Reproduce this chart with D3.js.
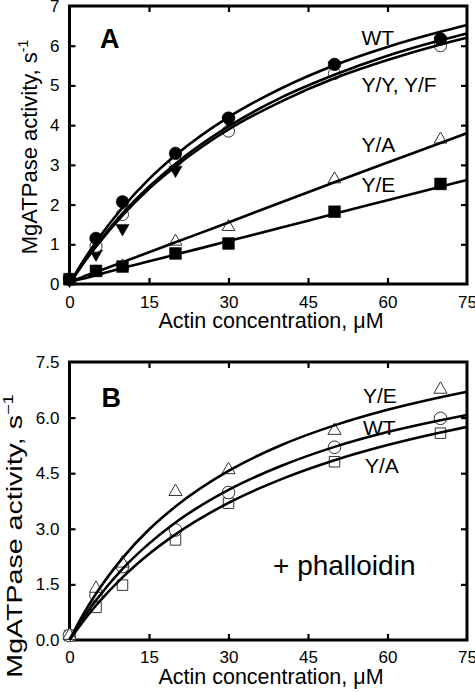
<!DOCTYPE html>
<html><head><meta charset="utf-8">
<script src="https://cdn.jsdelivr.net/npm/d3@7"></script>
<style>
html,body{margin:0;padding:0;background:#fff;}
svg{display:block;font-family:"Liberation Sans",Arial,Helvetica,sans-serif;}
</style></head>
<body><svg id="chart" width="475" height="692"></svg>
<script>
// ---------- data ----------
const xTicks = [0, 15, 30, 45, 60, 75];
const yTicksA = [0, 1, 2, 3, 4, 5, 6, 7];
const yTicksB = [0, 1.5, 3, 4.5, 6, 7.5];
const conc = [0, 5, 10, 20, 30, 50, 70];

// Panel A measured points
const aWT = [0.12, 1.15, 2.07, 3.29, 4.18, 5.53, 6.17];
const aYY = [0.12, 0.95, 1.75, 3.10, 3.85, 5.30, 6.00];
const aYF = [0.10, 0.76, 1.40, 2.87, 4.10, 5.50, 6.12];
const aYA = [0.10, 0.30, 0.45, 1.07, 1.44, 2.64, 3.64];
const aYE = [0.12, 0.33, 0.44, 0.77, 1.02, 1.82, 2.52];

// Panel B measured points (+ phalloidin)
const bYE = [0.12, 1.39, 2.07, 4.00, 4.59, 5.65, 6.76];
const bWT = [0.12, 1.21, 1.98, 2.97, 3.98, 5.20, 5.98];
const bYA = [0.12, 0.88, 1.48, 2.70, 3.69, 4.81, 5.58];

// fitted curves
const fitX = [0, 2.5, 5, 10, 15, 20, 30, 40, 50, 60, 70, 75];
const fitAWT = [0, 0.56, 1.06, 1.92, 2.64, 3.24, 4.20, 4.93, 5.51, 5.97, 6.35, 6.52];
const fitAYY = [0, 0.50, 0.94, 1.73, 2.40, 2.96, 3.89, 4.60, 5.18, 5.64, 6.03, 6.20];
const fitAYF = [0, 0.51, 0.97, 1.78, 2.45, 3.03, 3.97, 4.70, 5.27, 5.75, 6.14, 6.31];
const fitAYA = [0.05, 0.18, 0.30, 0.55, 0.80, 1.05, 1.55, 2.06, 2.56, 3.06, 3.55, 3.80];
const fitAYE = [0.05, 0.13, 0.22, 0.40, 0.57, 0.74, 1.08, 1.42, 1.77, 2.11, 2.45, 2.62];
const fitBYE = [0, 0.67, 1.25, 2.21, 2.98, 3.60, 4.56, 5.26, 5.79, 6.21, 6.55, 6.70];
const fitBWT = [0, 0.57, 1.07, 1.92, 2.60, 3.17, 4.05, 4.70, 5.21, 5.61, 5.93, 6.07];
const fitBYA = [0, 0.49, 0.93, 1.69, 2.32, 2.85, 3.70, 4.34, 4.85, 5.26, 5.60, 5.75];

const labelsA = ["WT", "Y/Y, Y/F", "Y/A", "Y/E"];
const labelsB = ["Y/E", "WT", "Y/A"];

// ---------- drawing ----------
const svg = d3.select("#chart");
const L = 69.5, R = 467;
const x = d3.scaleLinear().domain([0, 75]).range([L, R]);

function panel(opt) {
  const y = d3.scaleLinear().domain([0, opt.ymax]).range([opt.bottom, opt.top]);
  const g = svg.append("g");
  const interiorY = opt.yTicks.filter(v => v > 0 && v < opt.ymax);
  const interiorX = xTicks.filter(v => v > 0 && v < 75);

  // inward ticks (all four sides)
  const axL = g.append("g").attr("transform", `translate(${L},0)`)
    .call(d3.axisLeft(y).tickValues(opt.yTicks).tickSize(-6).tickPadding(10).tickFormat(opt.fmt));
  const axR = g.append("g").attr("transform", `translate(${R},0)`)
    .call(d3.axisRight(y).tickValues(interiorY).tickSize(-6).tickFormat(""));
  const axB = g.append("g").attr("transform", `translate(0,${opt.bottom})`)
    .call(d3.axisBottom(x).tickValues(xTicks).tickSize(-6).tickPadding(opt.xpad).tickFormat(d3.format("d")));
  const axT = g.append("g").attr("transform", `translate(0,${opt.top})`)
    .call(d3.axisTop(x).tickValues(interiorX).tickSize(-6).tickFormat(""));
  [axL, axR, axB, axT].forEach(a => {
    a.select(".domain").remove();
    a.selectAll("line").attr("stroke", "#000").attr("stroke-width", 2.2);
    a.selectAll("text").attr("fill", "#000").attr("font-size", 17)
      .attr("font-family", "Liberation Sans, Arial, sans-serif");
  });
  axL.selectAll(".tick").filter(d => d === 0 || d === opt.ymax).select("line").remove();
  axB.selectAll(".tick").filter(d => d === 0 || d === 75).select("line").remove();

  // frame
  g.append("rect").attr("x", L).attr("y", opt.top).attr("width", R - L).attr("height", opt.bottom - opt.top)
    .attr("fill", "none").attr("stroke", "#000").attr("stroke-width", 3);

  // markers
  opt.points.forEach(s => {
    const sym = d3.symbol().type(s.type).size(s.size);
    g.append("g").selectAll("path").data(conc.map((c, i) => [c, s.vals[i]])).join("path")
      .attr("d", sym)
      .attr("transform", d => `translate(${x(d[0])},${y(d[1])})${s.rot ? " rotate(180)" : ""}`)
      .attr("fill", s.filled ? "#000" : "#fff")
      .attr("stroke", s.filled ? "#000" : "#333")
      .attr("stroke-width", s.filled ? 0.5 : 1);
  });

  // fitted curves
  const line = d3.line().x(d => x(d[0])).y(d => y(d[1])).curve(d3.curveMonotoneX);
  opt.fits.forEach(f => {
    g.append("path").datum(fitX.map((c, i) => [c, f[i]]))
      .attr("d", line).attr("fill", "none").attr("stroke", "#000").attr("stroke-width", 2.6);
  });

  // x title
  g.append("text").attr("x", 271).attr("y", opt.xtitleY).attr("text-anchor", "middle")
    .attr("font-size", 21.5).text("Actin concentration, \u03BCM");

  // y title
  const yt = g.append("text")
    .attr("transform", `translate(${opt.ytitleX},${opt.ytitleCY}) rotate(-90) scale(${opt.ystretch},1)`)
    .attr("text-anchor", "middle").attr("font-size", 22);
  yt.append("tspan").text("MgATPase activity, s");
  yt.append("tspan").attr("font-size", 14).attr("dy", -9).text(opt.sup);

  // panel letter
  g.append("text").attr("x", opt.letterX).attr("y", opt.letterY).attr("font-size", 27)
    .attr("font-weight", "bold").text(opt.letter);

  // series labels
  opt.labels.forEach(l => {
    g.append("text").attr("x", l.x).attr("y", l.y).attr("font-size", l.size || 21).text(l.t);
  });
}

const circle = d3.symbolCircle, square = d3.symbolSquare, tri = d3.symbolTriangle;

panel({
  top: 6, bottom: 284, ymax: 7, yTicks: yTicksA, fmt: d3.format("d"), xpad: 12,
  xtitleY: 328, ytitleX: 37, ytitleCY: 147, ystretch: 1, sup: "-1",
  letter: "A", letterX: 100, letterY: 48,
  points: [
    {vals: aYA, type: tri, size: 70, filled: false},
    {vals: aYE, type: square, size: 140, filled: true},
    {vals: aYF, type: tri, size: 75, filled: true, rot: true},
    {vals: aYY, type: circle, size: 115, filled: false},
    {vals: aWT, type: circle, size: 125, filled: true}
  ],
  fits: [fitAWT, fitAYY, fitAYF, fitAYA, fitAYE],
  labels: [
    {t: labelsA[0], x: 361.5, y: 45},
    {t: labelsA[1], x: 361.5, y: 91.5},
    {t: labelsA[2], x: 361.5, y: 151.5},
    {t: labelsA[3], x: 361.5, y: 191.5}
  ]
});

panel({
  top: 362, bottom: 640, ymax: 7.5, yTicks: yTicksB, fmt: d3.format(".1f"), xpad: 11,
  xtitleY: 684, ytitleX: 22, ytitleCY: 536, ystretch: 1.3, sup: "\u22121",
  letter: "B", letterX: 101.5, letterY: 407,
  points: [
    {vals: bYA, type: square, size: 110, filled: false},
    {vals: bWT, type: circle, size: 125, filled: false},
    {vals: bYE, type: tri, size: 75, filled: false}
  ],
  fits: [fitBYE, fitBWT, fitBYA],
  labels: [
    {t: labelsB[0], x: 363, y: 402.5},
    {t: labelsB[1], x: 363, y: 435},
    {t: labelsB[2], x: 365, y: 473},
    {t: "+ phalloidin", x: 273, y: 575, size: 28}
  ]
});
</script>
</body></html>
